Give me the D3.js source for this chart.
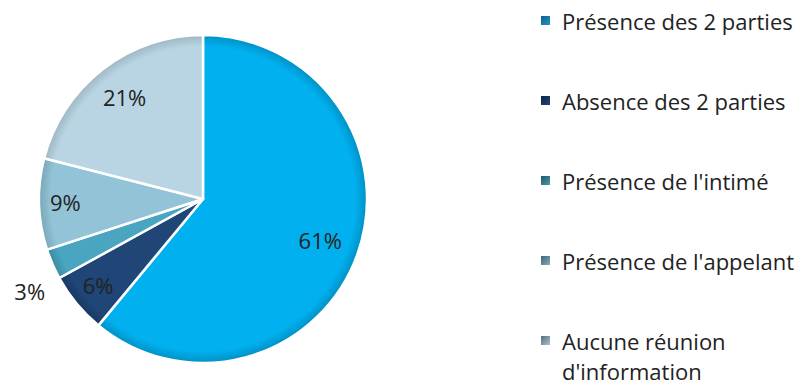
<!DOCTYPE html>
<html><head><meta charset="utf-8">
<script src="https://cdn.jsdelivr.net/npm/d3@7"></script>
<style>body{margin:0;background:#fff}svg{display:block}text{font-family:"Open Sans",Lato,sans-serif}</style>
</head><body>
<svg id="c" width="809" height="387"></svg>
<script>
const categories = ["Présence des 2 parties","Absence des 2 parties","Présence de l'intimé","Présence de l'appelant","Aucune réunion d'information"];
const values = [61, 6, 3, 9, 21];
const labels = ["61%","6%","3%","9%","21%"];
const sliceColors = ["#00B0EF","#1F4676","#4AA6C0","#93C3D6","#B9D5E3"];
const rimColors = ["#0090C4","#173862","#3A8AA0","#7AA6B8","#9DB6C2"];
const markerFrom = ["#0D5C8A","#0E2446","#1B5868","#3B6674","#566E7A"];
const markerTo = ["#2598C8","#24467A","#4C9AAE","#86AEBC","#A8C2CE"];

const svg = d3.select("#c");
const cx = 203, cy = 199, R = 164;
const defs = svg.append("defs");
sliceColors.forEach((c,i)=>{
  const g = defs.append("radialGradient").attr("id","rg"+i).attr("gradientUnits","userSpaceOnUse")
    .attr("cx",0).attr("cy",0).attr("r",R);
  g.append("stop").attr("offset","0").attr("stop-color",c);
  g.append("stop").attr("offset","0.93").attr("stop-color",c);
  g.append("stop").attr("offset","1").attr("stop-color",rimColors[i]);
  const l = defs.append("linearGradient").attr("id","lg"+i).attr("x1","0").attr("y1","0").attr("x2","1").attr("y2","1");
  l.append("stop").attr("offset","0").attr("stop-color",markerFrom[i]);
  l.append("stop").attr("offset","1").attr("stop-color",markerTo[i]);
});

const pie = d3.pie().sort(null).value(d=>d);
const arcs = pie(values);
const arc = d3.arc().innerRadius(0).outerRadius(R);
const g = svg.append("g").attr("transform",`translate(${cx},${cy})`);
g.selectAll("path").data(arcs).join("path")
  .attr("d",arc).attr("fill",(d,i)=>`url(#rg${i})`)
  .attr("stroke","#fff").attr("stroke-width",2.5).attr("stroke-linejoin","round");

// label placement (radius fraction, angular nudge) per slice
const labelR = [0.76, 0.83, 1.2, 0.84, 0.78];
const labelDA = [0, 0, -0.085, 0, 0];
g.selectAll("text").data(arcs).join("text")
  .attr("transform",(d,i)=>{
    const a=(d.startAngle+d.endAngle)/2+labelDA[i], r=R*labelR[i];
    return `translate(${Math.sin(a)*r},${-Math.cos(a)*r})`;})
  .attr("text-anchor","middle").attr("dy","0.36em")
  .attr("font-size",22).attr("fill","#222")
  .text((d,i)=>labels[i]);

// legend
const lg = svg.append("g");
const rowY = d3.scaleLinear().domain([0,1]).range([30,110]);
categories.forEach((name,i)=>{
  const y = rowY(i);
  lg.append("rect").attr("x",541).attr("y",y-14).attr("width",9).attr("height",9).attr("fill",`url(#lg${i})`);
  const words = i===4 ? ["Aucune réunion","d'information"] : [name];
  const t = lg.append("text").attr("x",562).attr("y",y).attr("font-size",22).attr("fill","#222");
  words.forEach((w,j)=>t.append("tspan").attr("x",562).attr("dy",j?30:0).text(w));
});
</script>
</body></html>
